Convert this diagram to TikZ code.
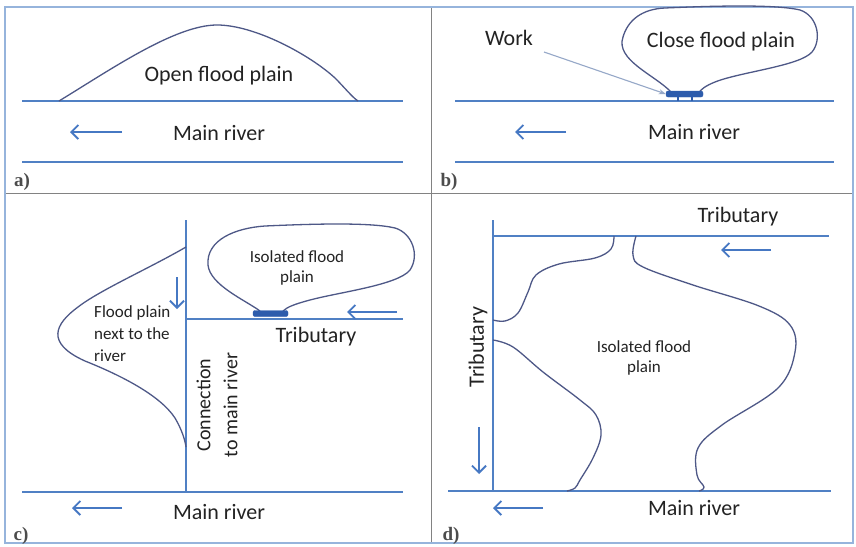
\documentclass[tikz,border=0pt]{standalone}
\usepackage{fontspec}
\setmainfont{Carlito}
\newfontfamily\labfont{Liberation Serif}
\usetikzlibrary{arrows.meta}
\definecolor{riverblue}{RGB}{80,128,196}
\definecolor{arrowblue}{RGB}{70,120,195}
\definecolor{outl}{RGB}{78,88,135}
\definecolor{workblue}{RGB}{45,92,172}
\definecolor{framecol}{RGB}{150,180,220}
\definecolor{divcol}{RGB}{130,130,130}
\definecolor{txtcol}{RGB}{35,35,35}
\definecolor{thinarrow}{RGB}{150,168,200}
\begin{document}
\begin{tikzpicture}[x=1pt,y=-1pt,
  river/.style={draw=riverblue, line width=1.8pt},
  outline/.style={draw=outl, line width=1.3pt, line join=round},
  flow/.style={draw=arrowblue, line width=1.9pt, -{Straight Barb[length=7pt,width=14pt]}},
  big/.style={text=txtcol, font=\fontsize{22}{26}\selectfont, inner sep=0pt},
  small/.style={text=txtcol, font=\fontsize{17}{21}\selectfont, inner sep=0pt},
  panellab/.style={text=black!70, font=\labfont\bfseries\fontsize{19}{20}\selectfont, inner sep=0pt},
  workrect/.style={fill=workblue, draw=workblue, rounded corners=2pt}]
\useasboundingbox (0,0) rectangle (856,546);
\fill[white] (0,0) rectangle (856,546);
% frame and dividers
\draw[divcol, line width=1pt] (431,7) -- (431,543);
\draw[divcol, line width=1pt] (5,193) -- (853,193);
\draw[framecol, line width=1.2pt] (5,7) rectangle (853,543);

% ---------- panel a ----------
\draw[river] (22,101) -- (403,101);
\draw[river] (22,162) -- (403,162);
\draw[outline] (59,101) .. controls (110,70) and (175,25) .. (217,25)
  .. controls (255,25) and (310,55) .. (335,78) .. controls (345,88) and (352,97) .. (358,101);
\node[big] (aopen) at (219,76) {Open flood plain};
\node[big] (ariver) at (219,133) {Main river};
\coordinate (aa1) at (122,132); \coordinate (aa2) at (70,132);
\draw[flow] (aa1) -- (aa2);
\node[panellab] (la) at (22,182) {a)};

% ---------- panel b ----------
\draw[river] (455,101) -- (834,101);
\draw[river] (455,162) -- (834,162);
\draw[outline] (671,92) .. controls (655,75) and (615,60) .. (623,37)
  .. controls (628,20) and (642,9) .. (665,8)
  .. controls (710,6) and (775,4) .. (800,10)
  .. controls (818,16) and (822,40) .. (812,52)
  .. controls (800,66) and (740,72) .. (715,82)
  .. controls (705,86) and (700,90) .. (699,93);
\draw[workblue, line width=1.2pt] (678,96) -- (678,101) (692,96) -- (692,101);
\node[workrect, minimum width=37pt, minimum height=6pt, inner sep=0pt] (bwork) at (684.5,94) {};
\node[big] (bclose) at (721,42) {Close flood plain};
\node[big] (bworklab) at (509,38) {Work};
\coordinate (bw1) at (544,52);
\draw[thinarrow, line width=1.1pt, -{Stealth[length=7pt,width=5pt]}] (bw1) -- (bwork.west);
\node[big] (briver) at (694,132) {Main river};
\coordinate (ba1) at (566,132); \coordinate (ba2) at (515,132);
\draw[flow] (ba1) -- (ba2);
\node[panellab] (lb) at (449,182) {b)};

% ---------- panel c ----------
\draw[river] (186,220) -- (186,492);
\draw[river] (186,319) -- (403,319);
\draw[river] (22,492) -- (403,492);
\draw[outline] (186,247) .. controls (150,268) and (100,290) .. (78,307)
  .. controls (55,324) and (45,343) .. (85,361)
  .. controls (120,375) and (160,395) .. (175,418)
  .. controls (182,430) and (185,440) .. (186,447);
\draw[outline] (260,311) .. controls (245,300) and (210,285) .. (208,265)
  .. controls (206,240) and (235,228) .. (265,226)
  .. controls (310,224) and (370,222) .. (395,228)
  .. controls (412,233) and (420,255) .. (410,270)
  .. controls (398,285) and (340,292) .. (310,300)
  .. controls (295,304) and (287,307) .. (283,311);
\node[workrect, minimum width=35pt, minimum height=6pt, inner sep=0pt] (cwork) at (270.5,313.5) {};
\node[small] (ciso1) at (297,257) {Isolated flood};
\node[small] (ciso2) at (297,278) {plain};
\node[small, align=left, anchor=north west, font=\fontsize{17}{22}\selectfont] (cfp) at (94,305) {Flood plain\\next to the\\river};
\node[big, rotate=90, align=center, font=\fontsize{20}{27}\selectfont] (cconn) at (217,405) {Connection\\to main river};
\node[big] (ctrib) at (316,337) {Tributary};
\coordinate (cd1) at (177,277); \coordinate (cd2) at (177,309);
\draw[flow] (cd1) -- (cd2);
\coordinate (ct1) at (397,312); \coordinate (ct2) at (347,312);
\draw[flow] (ct1) -- (ct2);
\node[big] (criver) at (219,512) {Main river};
\coordinate (ca1) at (122,508); \coordinate (ca2) at (72,508);
\draw[flow] (ca1) -- (ca2);
\node[panellab] (lc) at (21,536) {c)};

% ---------- panel d ----------
\draw[river] (493,220) -- (493,491);
\draw[river] (493,236) -- (829,236);
\draw[river] (448,491) -- (831,491);
\draw[outline] plot[smooth, tension=0.6] coordinates {(614,236) (611,249) (595,258) (559,264) (536,275) (528,292) (518,313) (505,321) (493,320)};
\draw[outline] plot[smooth, tension=0.6] coordinates {(493,340) (513,347) (543,372) (580,400) (596,415) (601,435) (593,458) (580,480) (575,488) (567,491)};
\draw[outline] plot[smooth, tension=0.6] coordinates {(636,236) (633,255) (643,267) (693,285) (759,306) (790,325) (795,352) (778,388) (722,425) (698,448) (697,475) (704,487) (699,491)};
\node[small] (diso1) at (644,347) {Isolated flood};
\node[small] (diso2) at (644,368) {plain};
\node[big] (dtrib) at (738,217) {Tributary};
\node[big, rotate=90] (dtribv) at (478,347) {Tributary};
\coordinate (dt1) at (771,250); \coordinate (dt2) at (721,250);
\draw[flow] (dt1) -- (dt2);
\coordinate (dv1) at (479,427); \coordinate (dv2) at (479,474);
\draw[flow] (dv1) -- (dv2);
\node[big] (driver) at (694,508) {Main river};
\coordinate (da1) at (543,508); \coordinate (da2) at (493,508);
\draw[flow] (da1) -- (da2);
\node[panellab] (ld) at (451,536) {d)};
\end{tikzpicture}
\end{document}
